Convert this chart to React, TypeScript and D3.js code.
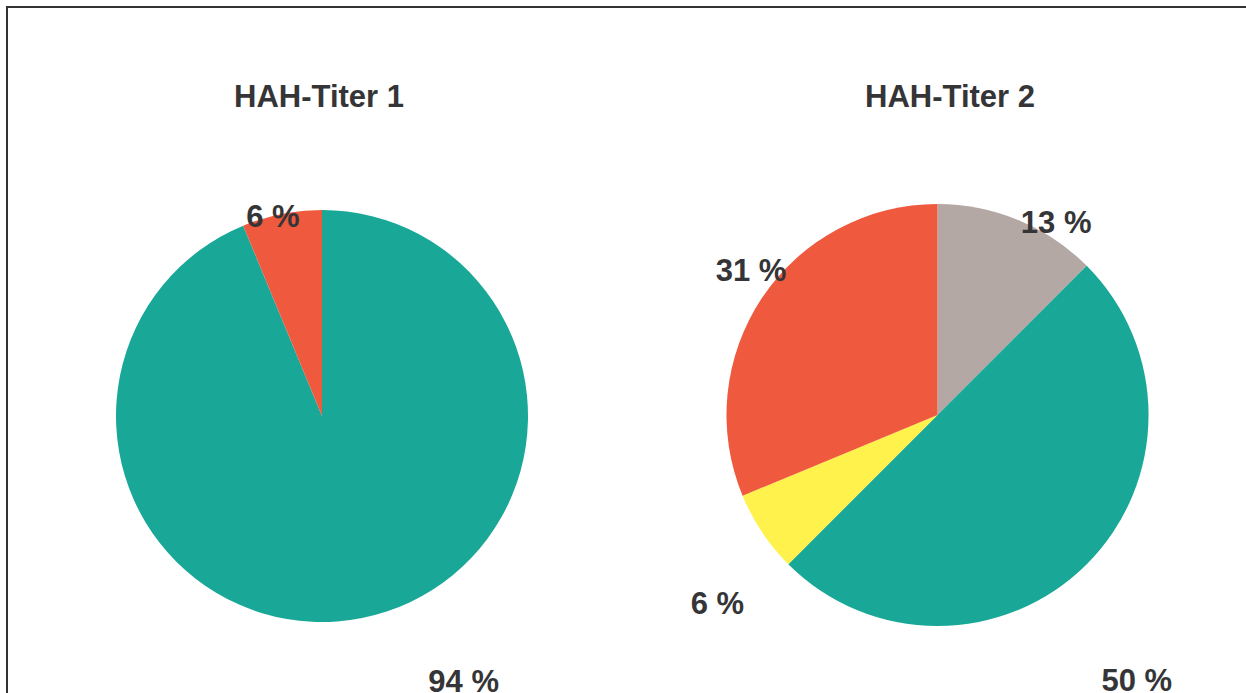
import React from "react";
import * as d3 from "d3";

const titles = ["HAH-Titer 1", "HAH-Titer 2"];
const pie1Categories = ["A", "B"];
const pie1Values = [15, 1];
const pie1Colors = ["#19a898", "#ef593e"];
const pie2Categories = ["C", "A", "D", "B"];
const pie2Values = [2, 8, 1, 5];
const pie2Colors = ["#b3a8a4", "#19a898", "#fff24c", "#ef593e"];

// label layout (polar: angle in degrees clockwise from top, radius factor)
const pie1LabelAngles = [151.9, -13.8];
const pie1LabelRadii = [1.46, 1.0];
const pie2LabelAngles = [31.5, 143, 229.6, 307.9];
const pie2LabelRadii = [1.076, 1.57, 1.37, 1.12];

const W = 1246;
const H = 693;
const TEXT = "#353537";
const FONT = "'Liberation Sans', Arial, Helvetica, sans-serif";

type PieProps = {
  cx: number;
  cy: number;
  r: number;
  title: string;
  titleX: number;
  values: number[];
  colors: string[];
  cats: string[];
  labelAngles: number[];
  labelRadii: number[];
};

function Pie({ cx, cy, r, title, titleX, values, colors, cats, labelAngles, labelRadii }: PieProps) {
  const total = d3.sum(values);
  const arcs = d3.pie<number>().sort(null).value((d) => d)(values);
  const arc = d3.arc<d3.PieArcDatum<number>>().innerRadius(0).outerRadius(r);
  return (
    <g>
      <text
        x={titleX}
        y={107}
        textAnchor="middle"
        fontFamily={FONT}
        fontWeight="bold"
        fontSize={31}
        fill={TEXT}
      >
        {title}
      </text>
      <g transform={`translate(${cx},${cy})`}>
        {arcs.map((a, i) => (
          <path key={cats[i]} d={arc(a) || ""} fill={colors[i]} />
        ))}
        {arcs.map((a, i) => {
          const ang = (labelAngles[i] * Math.PI) / 180;
          const rr = labelRadii[i] * r;
          const x = rr * Math.sin(ang);
          const y = -rr * Math.cos(ang);
          return (
            <text
              key={"l" + cats[i]}
              x={x}
              y={y}
              dy="0.36em"
              textAnchor="middle"
              fontFamily={FONT}
              fontWeight="bold"
              fontSize={31}
              fill={TEXT}
            >
              {`${Math.round((a.value / total) * 100)} %`}
            </text>
          );
        })}
      </g>
    </g>
  );
}

export default function App() {
  return (
    <svg
      width={W}
      height={H}
      style={{ position: "fixed", left: 0, top: 0, background: "#fff" }}
    >
      <rect x={0} y={0} width={W} height={H} fill="#fff" />
      <rect x={7} y={7} width={W + 20} height={H + 20} fill="none" stroke="#333336" strokeWidth={2} />
      <Pie
        cx={322}
        cy={416}
        r={206}
        title={titles[0]}
        titleX={319}
        values={pie1Values}
        colors={pie1Colors}
        cats={pie1Categories}
        labelAngles={pie1LabelAngles}
        labelRadii={pie1LabelRadii}
      />
      <Pie
        cx={937.5}
        cy={415}
        r={211}
        title={titles[1]}
        titleX={950}
        values={pie2Values}
        colors={pie2Colors}
        cats={pie2Categories}
        labelAngles={pie2LabelAngles}
        labelRadii={pie2LabelRadii}
      />
    </svg>
  );
}
